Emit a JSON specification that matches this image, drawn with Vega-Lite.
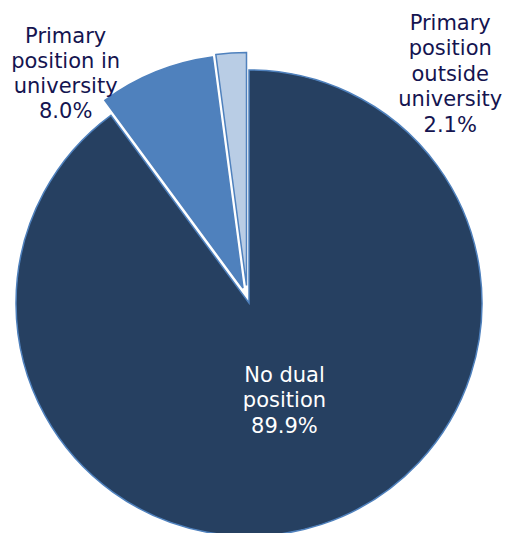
{
  "$schema": "https://vega.github.io/schema/vega-lite/v6.json",
  "autosize": "none",
  "width": 498,
  "height": 460,
  "padding": {"left": 0, "top": 73, "right": 8, "bottom": 0},
  "background": "white",
  "config": {"view": {"stroke": null}},
  "data": {
    "values": [
      {"category": "No dual position", "value": 89.9, "label": "No dual\nposition\n89.9%"},
      {"category": "Primary position in university", "value": 8.0, "label": "Primary\nposition in\nuniversity\n8.0%"},
      {"category": "Primary position outside university", "value": 2.1, "label": "Primary\nposition\noutside\nuniversity\n2.1%"}
    ]
  },
  "layer": [
    {
      "transform": [
        {"stack": "value", "groupby": [], "as": ["v0", "v1"]},
        {"filter": "datum.category == 'No dual position'"}
      ],
      "mark": {"type": "arc", "radius": 233, "stroke": "#4F81BD", "strokeWidth": 1.5, "fill": "#264061"},
      "encoding": {
        "theta": {"field": "v0", "type": "quantitative", "scale": {"domain": [0, 100]}},
        "theta2": {"field": "v1"}
      }
    },
    {
      "transform": [
        {"stack": "value", "groupby": [], "as": ["v0", "v1"]},
        {"filter": "datum.category == 'Primary position in university'"}
      ],
      "mark": {"type": "arc", "radius": 233, "stroke": "#4F81BD", "strokeWidth": 1.5, "fill": "#4F81BD", "xOffset": -6, "yOffset": -15},
      "encoding": {
        "theta": {"field": "v0", "type": "quantitative", "scale": {"domain": [0, 100]}},
        "theta2": {"field": "v1"}
      }
    },
    {
      "transform": [
        {"stack": "value", "groupby": [], "as": ["v0", "v1"]},
        {"filter": "datum.category == 'Primary position outside university'"}
      ],
      "mark": {"type": "arc", "radius": 233, "stroke": "#4F81BD", "strokeWidth": 1.5, "fill": "#B9CDE5", "xOffset": -2.5, "yOffset": -17.5},
      "encoding": {
        "theta": {"field": "v0", "type": "quantitative", "scale": {"domain": [0, 100]}},
        "theta2": {"field": "v1"}
      }
    },
    {
      "mark": {"type": "text", "radius": 104, "dx": 3, "dy": -26, "fill": "white", "font": "DejaVu Sans", "fontSize": 21, "lineBreak": "\n", "lineHeight": 25.5, "baseline": "middle", "align": "center"},
      "encoding": {
        "theta": {"field": "value", "type": "quantitative", "stack": true},
        "order": {"field": "value", "type": "quantitative", "sort": "descending"},
        "text": {"condition": {"test": "datum.category == 'No dual position'", "field": "label"}, "value": ""}
      }
    },
    {
      "mark": {"type": "text", "radius": 295, "dx": -73, "dy": 7.5, "fill": "#141450", "font": "DejaVu Sans", "fontSize": 21, "lineBreak": "\n", "lineHeight": 25, "baseline": "middle", "align": "center"},
      "encoding": {
        "theta": {"field": "value", "type": "quantitative", "stack": true},
        "order": {"field": "value", "type": "quantitative", "sort": "descending"},
        "text": {"condition": {"test": "datum.category == 'Primary position in university'", "field": "label"}, "value": ""}
      }
    },
    {
      "mark": {"type": "text", "radius": 300, "dx": 221, "dy": 20, "fill": "#141450", "font": "DejaVu Sans", "fontSize": 21, "lineBreak": "\n", "lineHeight": 25.5, "baseline": "middle", "align": "center"},
      "encoding": {
        "theta": {"field": "value", "type": "quantitative", "stack": true},
        "order": {"field": "value", "type": "quantitative", "sort": "descending"},
        "text": {"condition": {"test": "datum.category == 'Primary position outside university'", "field": "label"}, "value": ""}
      }
    }
  ]
}
